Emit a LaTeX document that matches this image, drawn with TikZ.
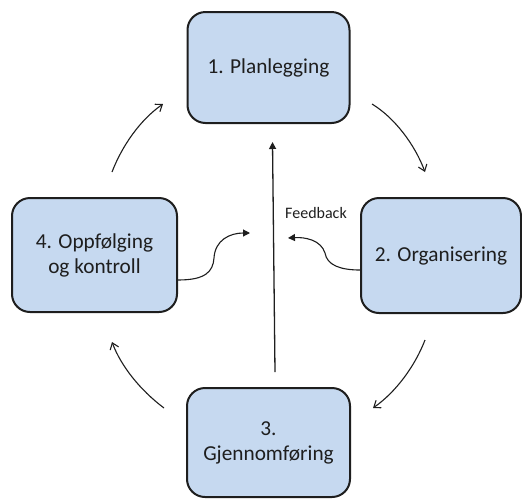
\documentclass[tikz,border=0pt]{standalone}
\usepackage{fontspec}
\setmainfont{Carlito}
\usetikzlibrary{arrows.meta}
\definecolor{boxfill}{RGB}{198,217,240}
\definecolor{ink}{RGB}{30,30,30}
\begin{document}
\begin{tikzpicture}[x=1pt,y=-1pt,
  phase/.style={draw=ink, fill=boxfill, line width=2pt, rounded corners=18pt,
    minimum width=162pt, minimum height=111pt, align=center, text=ink,
    font=\fontsize{21.3}{25}\selectfont, inner sep=0pt},
  cyc/.style={draw=ink, line width=1.1pt, -{Straight Barb[length=6pt,width=9pt,line width=1.1pt]}},
  fb/.style={draw=ink, line width=1.1pt, -{Triangle[length=7pt,width=7pt]}}]
\useasboundingbox (0,0) rectangle (522,499);
\node[phase] (p1) at (268.5,67.5) {1. Planlegging};
\node[phase, minimum width=160pt, minimum height=115pt] (p2) at (441,255.5) {2. Organisering};
\node[phase, minimum width=110pt, minimum height=109pt, minimum width=163pt] (p3) at (268.5,442.5) {3.\\Gjennomføring};
\node[phase, minimum width=165pt, minimum height=114pt] (p4) at (94.5,255) {4. Oppfølging\\og kontroll};
\node[text=ink, font=\fontsize{16}{19}\selectfont] (fbl) at (316,213) {Feedback};
% cycle arc endpoints
\coordinate (a1s) at (112,172); \coordinate (a1e) at (163,104);
\coordinate (a2s) at (372,104); \coordinate (a2e) at (425,172);
\coordinate (a3s) at (425,340); \coordinate (a3e) at (373,408);
\coordinate (a4s) at (164,408); \coordinate (a4e) at (112,342);
\draw[cyc] (a1s) .. controls (122,146) and (140,120) .. (a1e);
\draw[cyc] (a2s) .. controls (395,118) and (415,145) .. (a2e);
\draw[cyc] (a3s) .. controls (415,366) and (396,392) .. (a3e);
\draw[cyc] (a4s) .. controls (140,390) and (121,366) .. (a4e);
% central feedback line
\coordinate (vtip) at (272.5,142);
\draw[fb, line width=1.3pt] (p3.north -| 275,0) ++(0,-15) -- (vtip);
% feedback curves
\coordinate (fl) at (250,233);
\coordinate (fr) at (288,238);
\draw[fb] (p4.east |- 0,280) .. controls (205,280) and (213,272) .. (214,258)
  .. controls (215,240) and (230,233) .. (fl);
\draw[fb] (p2.west |- 0,270) .. controls (340,270) and (327,265) .. (325,253)
  .. controls (321,240) and (305,237) .. (fr);
\end{tikzpicture}
\end{document}
